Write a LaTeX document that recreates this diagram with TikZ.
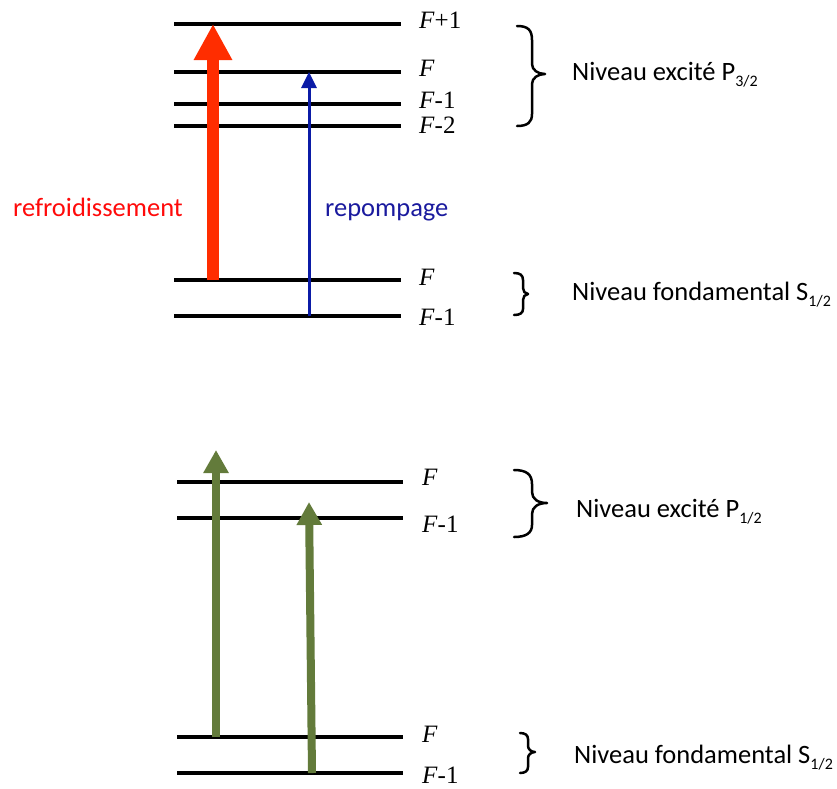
\documentclass[tikz,border=0pt]{standalone}
\usepackage{fontspec}
\setmainfont{Carlito}
\newfontfamily\timesf{Liberation Serif}
\usetikzlibrary{arrows.meta}
\definecolor{redarrow}{HTML}{FF2D00}
\definecolor{bluearrow}{HTML}{0B1BA6}
\definecolor{greenarrow}{HTML}{637B3B}
\definecolor{redtext}{HTML}{FF0A0A}
\definecolor{bluetext}{HTML}{1A1A9E}
\newcommand\Flab[1]{{\timesf\fontsize{25}{25}\selectfont\textit{F}#1}}
\newcommand\subtxt[1]{\raisebox{-6pt}{\fontsize{16}{16}\selectfont #1}}
\begin{document}
\begin{tikzpicture}[x=1pt,y=-1pt,
  level/.style={line width=4pt},
  flabel/.style={anchor=base west,inner sep=0pt},
  niveau/.style={anchor=base west,inner sep=0pt,font=\fontsize{26.5}{26.5}\selectfont},
  bracepath/.style={line width=2.5pt,line cap=round,line join=round},
  redarr/.style={draw=redarrow,line width=12pt,-{Triangle[width=36pt,length=36pt]}},
  bluearr/.style={draw=bluearrow,line width=3pt,-{Triangle[width=15pt,length=16pt]}},
  greenarr/.style={draw=greenarrow,line width=8pt,-{Triangle[width=24pt,length=23pt]}}]
\useasboundingbox (0,0) rectangle (837,788);

% ---- top diagram levels
\coordinate (a1) at (174,24);  \coordinate (a2) at (401,24);
\coordinate (b1) at (174,72);  \coordinate (b2) at (401,72);
\coordinate (c1) at (174,104); \coordinate (c2) at (401,104);
\coordinate (d1) at (174,126); \coordinate (d2) at (401,126);
\coordinate (g1) at (174,280); \coordinate (g2) at (401,280);
\coordinate (h1) at (174,316); \coordinate (h2) at (401,316);
\foreach \p in {a,b,c,d,g,h} \draw[level] (\p1) -- (\p2);

\node[flabel] (la) at (419,28) {\Flab{+1}};
\node[flabel] (lb) at (419,76) {\Flab{}};
\node[flabel] (lc) at (419,108) {\Flab{-1}};
\node[flabel] (ld) at (419,133) {\Flab{-2}};
\node[flabel] (lg) at (419,285) {\Flab{}};
\node[flabel] (lh) at (419,325) {\Flab{-1}};

% arrows top
\coordinate (rs) at (213,280); \coordinate (re) at (213,24);
\draw[redarr] (rs) -- (re);
\coordinate (bs) at (309,316); \coordinate (be) at (309,72);
\draw[bluearr] (bs) -- (be);

\node[anchor=base west,inner sep=0pt,text=redtext,font=\fontsize{26.5}{26.5}\selectfont] (refr) at (13,216) {refroidissement};
\node[anchor=base west,inner sep=0pt,text=bluetext,font=\fontsize{26.5}{26.5}\selectfont] (repo) at (325,216) {repompage};

% braces top
\draw[bracepath] (517,26) .. controls (528,26) and (532,30) .. (532,40) -- (532,64)
  .. controls (532,70) and (538,74) .. (545,74)
  .. controls (538,74) and (532,78) .. (532,84) -- (532,114)
  .. controls (532,122) and (528,126) .. (517,126);
\node[niveau] (n1) at (572,80) {Niveau excité P\subtxt{3/2}};

\draw[bracepath] (514,273) .. controls (520,273) and (523,275) .. (523,280) -- (523,288)
  .. controls (523,291) and (525,294) .. (528,294)
  .. controls (525,294) and (523,297) .. (523,300) -- (523,309)
  .. controls (523,313) and (520,315) .. (514,315);
\node[niveau] (n2) at (572,300) {Niveau fondamental S\subtxt{1/2}};

% ---- bottom diagram levels
\coordinate (p1) at (177,482); \coordinate (p2) at (403,482);
\coordinate (q1) at (177,518); \coordinate (q2) at (403,518);
\coordinate (s1) at (177,737); \coordinate (s2) at (403,737);
\coordinate (t1) at (177,773); \coordinate (t2) at (403,773);
\foreach \p in {p,q,s,t} \draw[level] (\p1) -- (\p2);

\node[flabel] (lp) at (422,485) {\Flab{}};
\node[flabel] (lq) at (422,532) {\Flab{-1}};
\node[flabel] (ls) at (422,742) {\Flab{}};
\node[flabel] (lt) at (422,783) {\Flab{-1}};

\coordinate (gs1) at (216,737); \coordinate (ge1) at (216,450);
\draw[greenarr] (gs1) -- (ge1);
\coordinate (gs2) at (312,773); \coordinate (ge2) at (309,502);
\draw[greenarr] (gs2) -- (ge2);

\draw[bracepath] (514,470) .. controls (526,470) and (532,474) .. (532,484) -- (532,492)
  .. controls (532,499) and (538,503) .. (547,503)
  .. controls (538,503) and (532,507) .. (532,514) -- (532,525)
  .. controls (532,533) and (526,537) .. (514,537);
\node[niveau] (n3) at (576,517) {Niveau excité P\subtxt{1/2}};

\draw[bracepath] (520,733) .. controls (525,733) and (528,735) .. (528,739) -- (528,746)
  .. controls (528,749) and (531,752) .. (535,752)
  .. controls (531,752) and (528,755) .. (528,758) -- (528,767)
  .. controls (528,771) and (525,773) .. (520,773);
\node[niveau] (n4) at (574,763) {Niveau fondamental S\subtxt{1/2}};
\end{tikzpicture}
\end{document}
